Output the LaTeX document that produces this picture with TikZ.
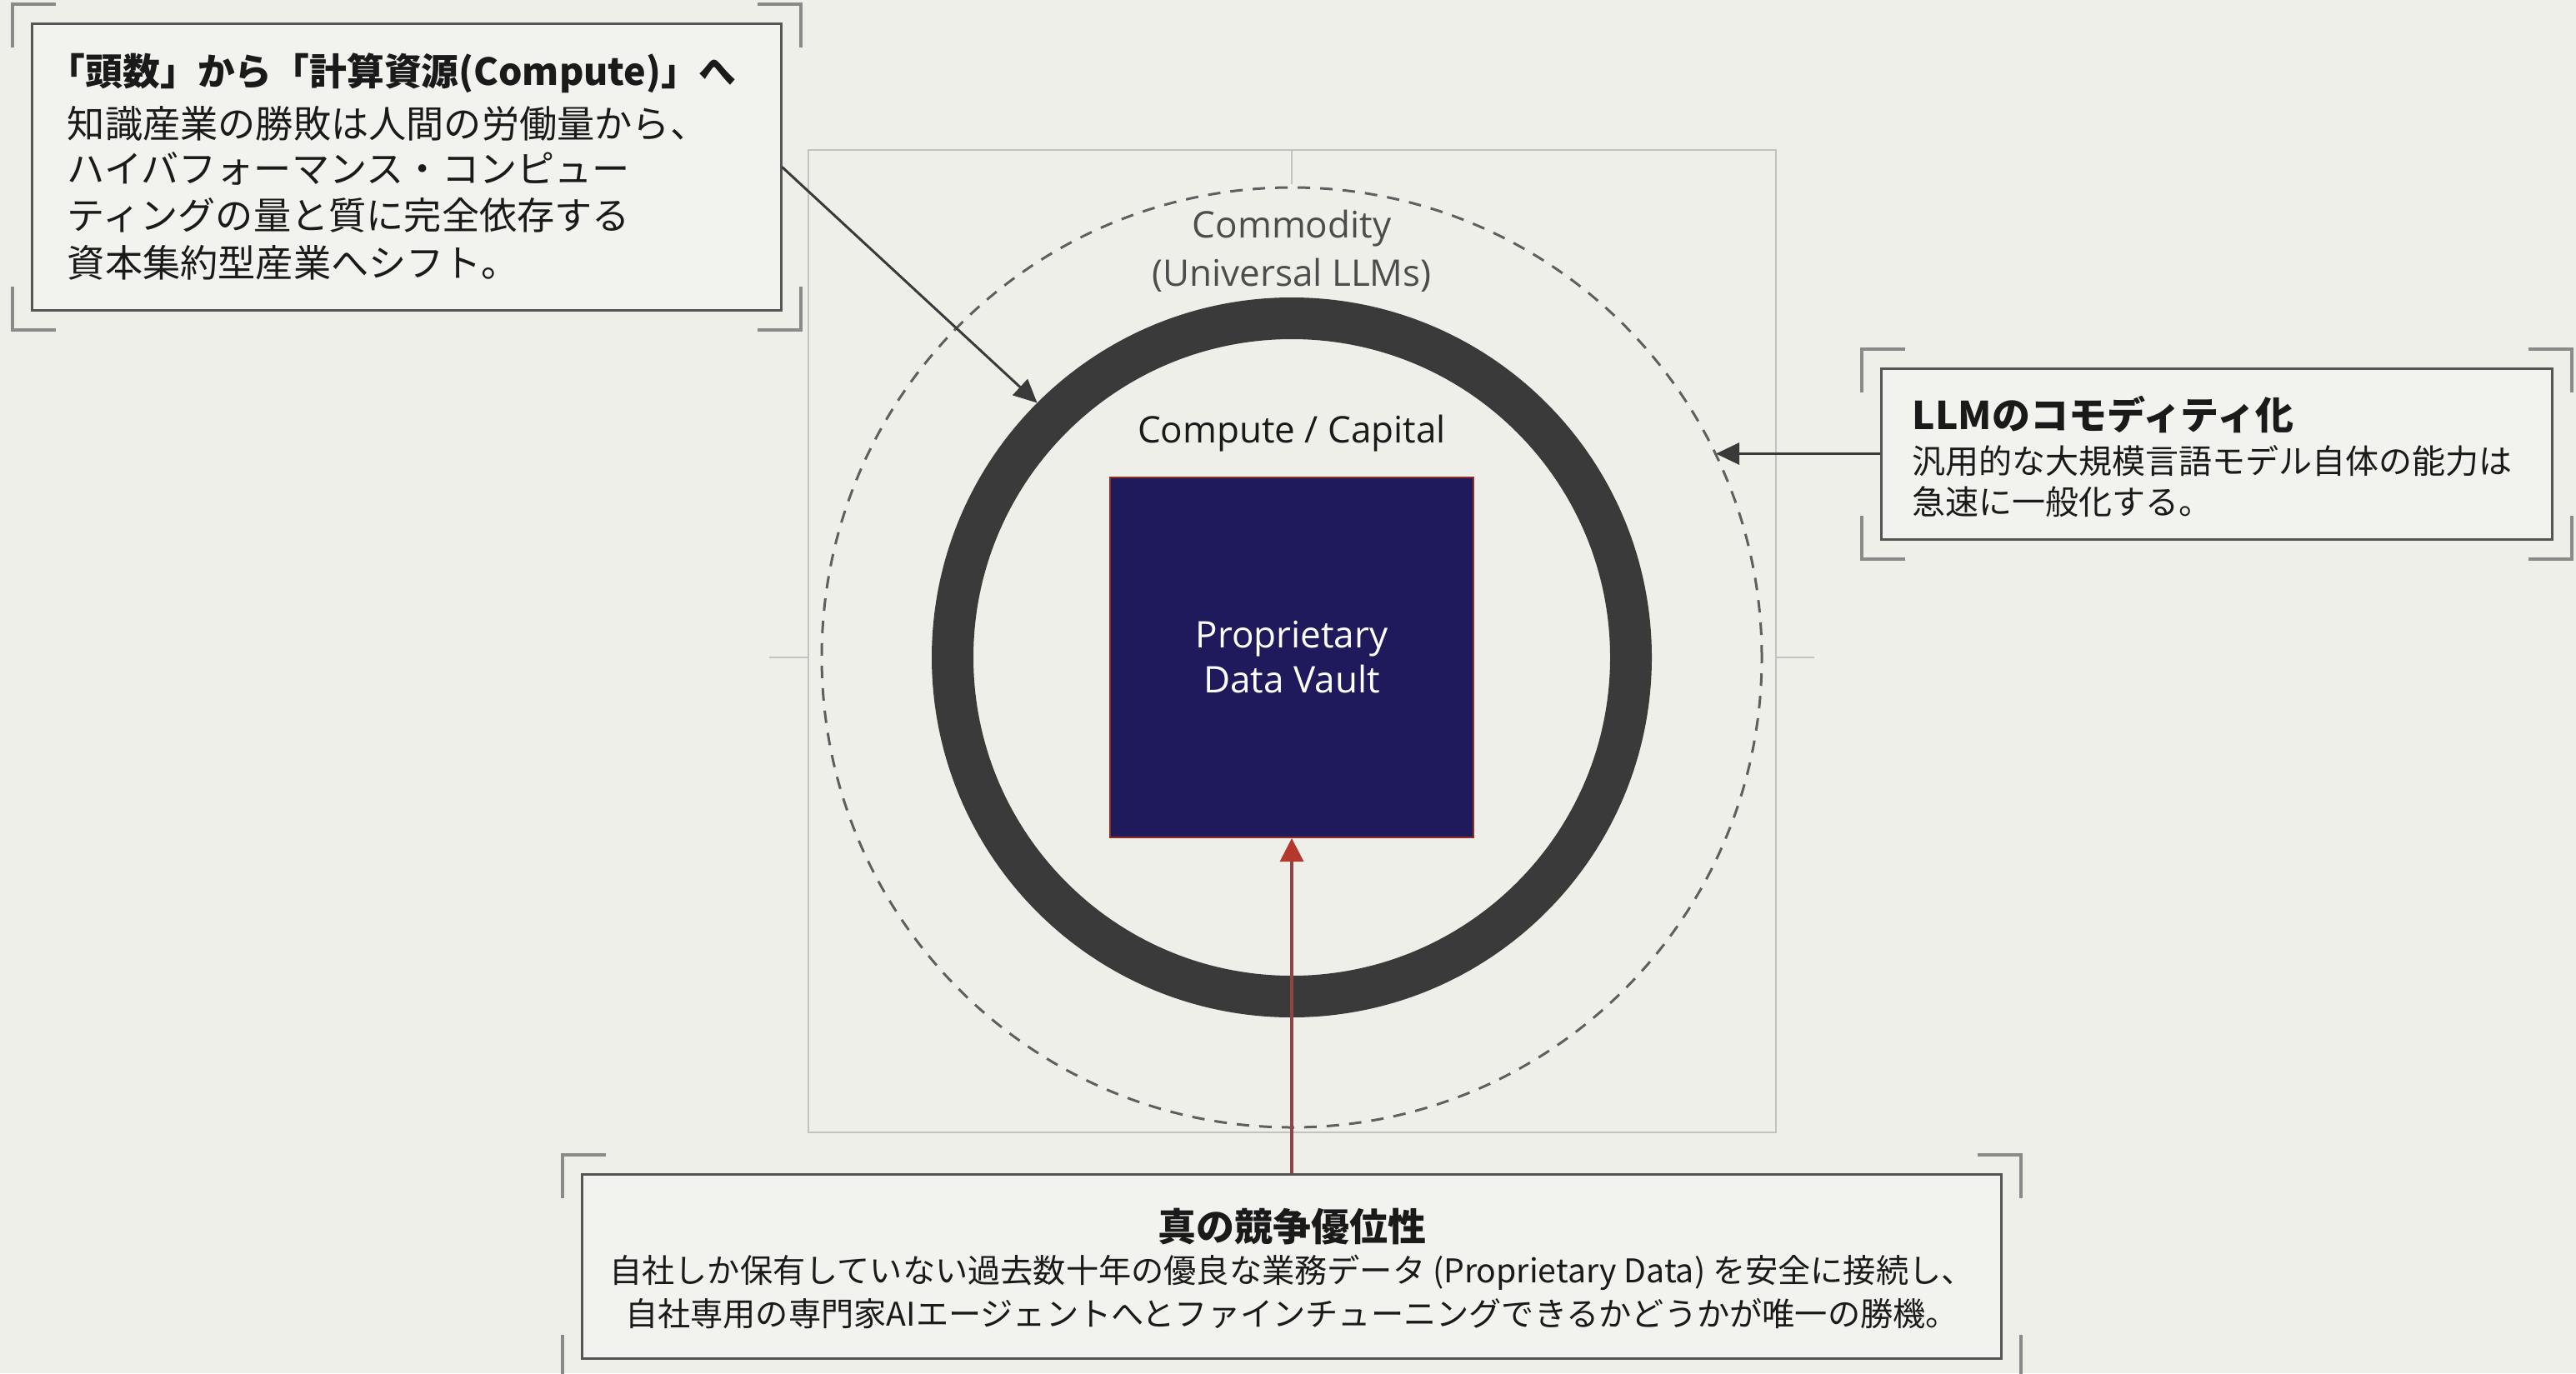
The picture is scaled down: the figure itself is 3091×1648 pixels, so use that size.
\documentclass[tikz,border=0pt]{standalone}
\usepackage{fontspec}
\setmainfont{Open Sans}
\newfontfamily\jp{Noto Sans CJK JP}
\usetikzlibrary{arrows.meta}
\definecolor{bg}{HTML}{EFEFEA}
\definecolor{boxfill}{HTML}{F2F2EE}
\definecolor{boxline}{HTML}{555555}
\definecolor{brk}{HTML}{8A8A8A}
\definecolor{frameg}{HTML}{C2C2BE}
\definecolor{ringc}{HTML}{3A3A3A}
\definecolor{navy}{HTML}{1E1A5C}
\definecolor{redl}{HTML}{8E4545}
\definecolor{redh}{HTML}{B4382C}
\definecolor{ink}{HTML}{1A1A1A}
\definecolor{gtext}{HTML}{4D4D4D}
\definecolor{conn}{HTML}{3A3A3A}
\newcommand\cornerbrackets[1]{%
  \draw[brkline] ([shift={(30,-22)}]#1.north west) -- ++(-52,0) -- ++(0,52);
  \draw[brkline] ([shift={(-30,-22)}]#1.north east) -- ++(52,0) -- ++(0,52);
  \draw[brkline] ([shift={(30,22)}]#1.south west) -- ++(-52,0) -- ++(0,-52);
  \draw[brkline] ([shift={(-30,22)}]#1.south east) -- ++(52,0) -- ++(0,-52);
}
\begin{document}
\begin{tikzpicture}[x=0.25pt,y=-0.25pt,
  infobox/.style={draw=boxline,line width=0.75pt,fill=boxfill,inner sep=0pt},
  brkline/.style={draw=brk,line width=1pt},
  jptitle/.style={font=\jp\bfseries\fontsize{11.5}{14}\selectfont,text=ink,inner sep=0pt},
  jpbody/.style={font=\jp\fontsize{11.3}{14}\selectfont,text=ink,inner sep=0pt},
  jpsmall/.style={font=\jp\fontsize{10}{12}\selectfont,text=ink,inner sep=0pt},
  jpbottom/.style={font=\jp\fontsize{9.8}{12}\selectfont,text=ink,inner sep=0pt},
  tick/.style={draw=frameg,line width=0.7pt},
  connarrow/.style={draw=conn,line width=0.75pt,-{Triangle[length=7pt,width=6.5pt]}},
  redarrow/.style={draw=redl,line width=0.8pt,-{Triangle[length=7pt,width=7pt,color=redh]}}
]
\useasboundingbox (0,0) rectangle (3091,1648);
\fill[bg] (0,0) rectangle (3091,1648);

% central frame and ticks
\node[draw=frameg,line width=0.6pt,minimum width=290.25pt,minimum height=294.75pt,inner sep=0pt] (frame) at (1550.5,769.5) {};
\coordinate (c) at (1550,789);
\draw[tick] (1550,180) -- (1550,221);
\draw[tick] (923,789) -- (970,789);
\draw[tick] (2131,789) -- (2177,789);

% commodity dashed circle
\node[circle,draw=gtext!90,line width=0.75pt,dash pattern=on 3.75pt off 3pt,minimum size=282pt,inner sep=0pt] (commod) at (c) {};
% compute ring
\node[circle,draw=ringc,line width=12.5pt,minimum size=203.5pt,inner sep=0pt] (ring) at (c) {};
% vault
\node[fill=navy,draw=redh!80!black,line width=0.5pt,minimum width=109pt,minimum height=108pt,inner sep=0pt,
      align=center,text=white,font=\fontsize{11}{13.5}\selectfont] (vault) at (c) {Proprietary\\Data Vault};

\node[align=center,text=gtext,font=\fontsize{11}{14.5}\selectfont,inner sep=0pt] (commlabel) at (1550,301) {Commodity\\(Universal LLMs)};
\node[text=ink,font=\fontsize{11}{13}\selectfont,inner sep=0pt] (complabel) at (1550,520) {Compute / Capital};

% box 1
\node[infobox,minimum width=224.75pt,minimum height=85.75pt] (box1) at (487.5,200.5) {};
\cornerbrackets{box1}
\node[jptitle,anchor=west,font=\jp\bfseries\fontsize{11.2}{14}\selectfont] (b1t) at (57,88) {「頭数」から「計算資源(Compute)」へ};
\node[jpbody,anchor=west] (b1a) at (80,148) {知識産業の勝敗は人間の労働量から、};
\node[jpbody,anchor=west] (b1b) at (80,202) {ハイバフォーマンス・コンピュー};
\node[jpbody,anchor=west] (b1c) at (80,258) {ティングの量と質に完全依存する};
\node[jpbody,anchor=west] (b1d) at (80,315) {資本集約型産業へシフト。};

% box 2
\node[infobox,minimum width=201.25pt,minimum height=51.25pt] (box2) at (2659.5,544.5) {};
\cornerbrackets{box2}
\node[jptitle,anchor=west] (b2t) at (2294,497) {LLMのコモディティ化};
\node[jpsmall,anchor=west] (b2a) at (2294,553) {汎用的な大規模言語モデル自体の能力は};
\node[jpsmall,anchor=west] (b2b) at (2294,602) {急速に一般化する。};

% box 3
\node[infobox,minimum width=425.75pt,minimum height=55.25pt] (box3) at (1550,1519.5) {};
\cornerbrackets{box3}
\node[jptitle] (b3t) at (1550,1472) {真の競争優位性};
\node[jpbottom] (b3a) at (1550,1527) {自社しか保有していない過去数十年の優良な業務データ (Proprietary Data) を安全に接続し、};
\node[jpbottom] (b3b) at (1550,1577) {自社専用の専門家AIエージェントへとファインチューニングできるかどうかが唯一の勝機。};

% connectors
\coordinate (t2) at (2059,544.5);
\draw[connarrow] (box1.east) -- (ring.135);
\draw[connarrow] (box2.west) -- (t2);
\draw[redarrow] (box3.north) -- (vault.south);
\end{tikzpicture}
\end{document}
